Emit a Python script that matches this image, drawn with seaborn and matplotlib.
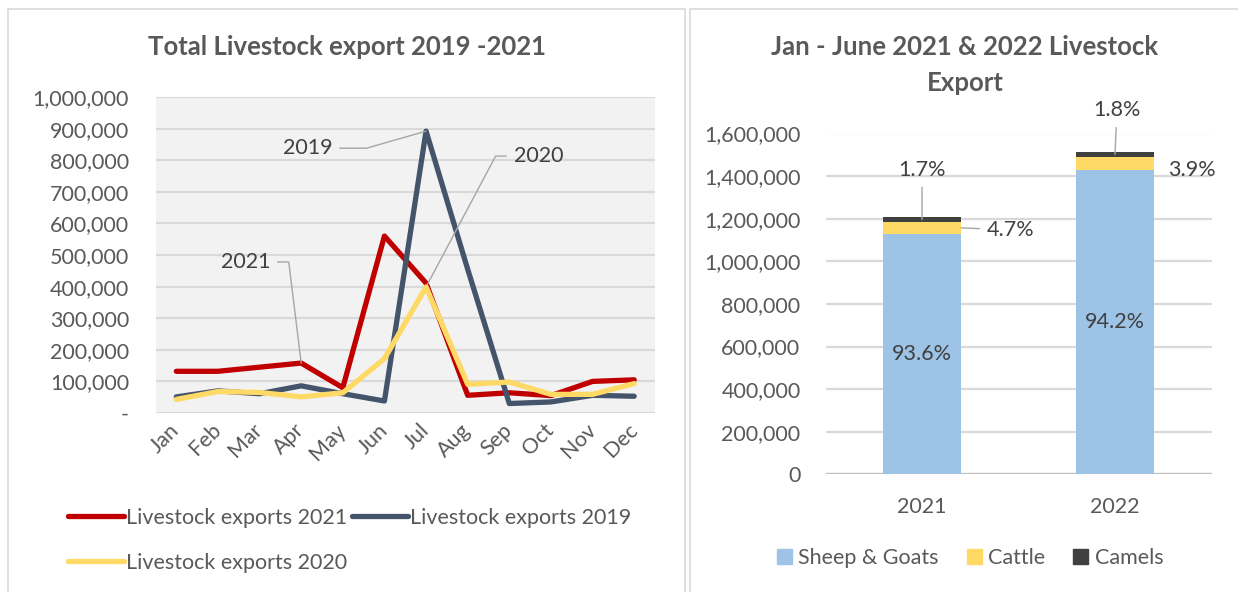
import matplotlib
matplotlib.use("Agg")
import matplotlib.pyplot as plt
from matplotlib.patches import Rectangle, Patch
from matplotlib.lines import Line2D
import numpy as np
import pandas as pd
import seaborn as sns

# ---- data ----
months = ["Jan", "Feb", "Mar", "Apr", "May", "Jun",
          "Jul", "Aug", "Sep", "Oct", "Nov", "Dec"]
exports_2021 = [132000, 132000, 145000, 158000, 80000, 560000,
                411000, 56000, 64000, 55000, 100000, 105000]
exports_2019 = [51000, 70000, 61000, 86000, 61000, 38000,
                892000, 455000, 30000, 35000, 56000, 53000]
exports_2020 = [43000, 68000, 65000, 51000, 64000, 172000,
                399000, 91000, 98000, 59000, 59000, 93000]

periods = ["2021", "2022"]
period_totals = [1206000, 1517000]
share_sheep_goats = [93.6, 94.2]
share_cattle = [4.7, 3.9]
share_camels = [1.7, 1.8]

RED, NAVY, YELLOW = "#C00000", "#44546A", "#FFD966"
BLUE, DARK = "#9DC3E6", "#404040"
TEXT = "#595959"
FS = 15.5      # tick / label text
FS_TITLE = 18.5

sns.set_theme(style="white")
plt.rcParams["font.family"] = ["Lato", "DejaVu Sans"]

W, H = 1238, 592
fig = plt.figure(figsize=(W / 100, H / 100), dpi=100)


def box(x0, y0, x1, y1):
    """Figure-fraction rectangle from pixel coords (origin top-left)."""
    return [x0 / W, 1 - y1 / H, (x1 - x0) / W, (y1 - y0) / H]


# panel frames
for (x0, x1) in [(8, 685), (690, 1250)]:
    fig.patches.append(Rectangle((x0 / W, -0.05), (x1 - x0) / W, 1.05 - 9 / H,
                                 transform=fig.transFigure, fill=False,
                                 edgecolor="#D9D9D9", lw=1.2))

# ---- left: monthly line chart ----
ax1 = fig.add_axes(box(155.5, 97, 655, 413))
ax1.set_facecolor("#F2F2F2")
series_names = ["Livestock exports 2021", "Livestock exports 2019",
                "Livestock exports 2020"]
long = pd.DataFrame({
    "pos": list(range(12)) * 3,
    "value": exports_2021 + exports_2019 + exports_2020,
    "series": [series_names[0]] * 12 + [series_names[1]] * 12
              + [series_names[2]] * 12,
})
palette = dict(zip(series_names, [RED, NAVY, YELLOW]))
sns.lineplot(data=long, x="pos", y="value", hue="series", palette=palette,
             hue_order=series_names, lw=3.8, ax=ax1, legend=False, sort=False)
# keep the 2020 series on top
for ln in ax1.get_lines():
    if matplotlib.colors.to_hex(ln.get_color()).upper() == YELLOW:
        ln.set_zorder(5)

ax1.set_xlim(-0.5, 11.5)
ax1.set_ylim(0, 1000000)
ax1.set_yticks(np.arange(0, 1000001, 100000))
ax1.set_yticklabels(["-"] + [f"{v:,}" for v in range(100000, 1000001, 100000)])
ax1.set_xticks(range(12))
ax1.set_xticklabels(months, rotation=45, ha="right", va="center",
                    rotation_mode="anchor")
ax1.tick_params(axis="y", length=0, pad=19, labelsize=FS, labelcolor=TEXT)
ax1.tick_params(axis="x", length=0, pad=10, labelsize=FS, labelcolor=TEXT)
ax1.grid(axis="y", color="#D9D9D9", lw=1.6)
ax1.set_axisbelow(True)
ax1.set_xlabel("")
ax1.set_ylabel("")
for s in ax1.spines.values():
    s.set_visible(False)

lead = dict(arrowstyle="-", color="#A6A6A6", lw=1.0, shrinkA=3, shrinkB=0)
ax1.annotate("2019", xy=(6, exports_2019[6]), xytext=(3.15, 838000),
             ha="center", va="center", fontsize=FS, color=DARK,
             arrowprops=dict(lead, connectionstyle="angle,angleA=0,angleB=196,rad=0"))
ax1.annotate("2020", xy=(6, exports_2020[6]), xytext=(8.7, 813000),
             ha="center", va="center", fontsize=FS, color=DARK,
             arrowprops=dict(lead, connectionstyle="angle,angleA=180,angleB=62,rad=0"))
ax1.annotate("2021", xy=(3, exports_2021[3]), xytext=(1.66, 478000),
             ha="center", va="center", fontsize=FS, color=DARK,
             arrowprops=dict(lead, connectionstyle="angle,angleA=0,angleB=97,rad=0"))

handles = [Line2D([], [], color=RED, lw=3.8, solid_capstyle="round"),
           Line2D([], [], color=YELLOW, lw=3.8, solid_capstyle="round"),
           Line2D([], [], color=NAVY, lw=3.8, solid_capstyle="round")]
labels = [series_names[0], series_names[2], series_names[1]]
fig.legend(handles, labels, ncol=2, loc="upper left",
           bbox_to_anchor=(68 / W, 1 - 508 / H), frameon=False,
           fontsize=FS, labelcolor=TEXT, handlelength=2.6, handletextpad=0.1,
           columnspacing=0.2, labelspacing=1.15, borderaxespad=0,
           borderpad=0)

fig.text(347 / W, 1 - 47 / H, "Total Livestock export 2019 -2021",
         ha="center", va="center", fontsize=FS_TITLE, fontweight="bold",
         color=TEXT)

# ---- right: stacked bars ----
ax2 = fig.add_axes(box(825.5, 133.5, 1211.5, 474.3))
tot = np.array(period_totals, dtype=float)
sheep = tot * np.array(share_sheep_goats) / 100
cattle = tot * np.array(share_cattle) / 100
camels = tot * np.array(share_camels) / 100

layers = [(sheep + cattle + camels, DARK),
          (sheep + cattle, YELLOW),
          (sheep, BLUE)]
for vals, col in layers:
    sns.barplot(x=periods, y=vals, color=col, width=0.404, saturation=1,
                linewidth=0, ax=ax2, zorder=3)

ax2.set_xlim(-0.5, 1.5)
ax2.set_ylim(0, 1600000)
ax2.set_yticks(np.arange(0, 1600001, 200000))
ax2.set_yticklabels([f"{v:,}" for v in range(0, 1600001, 200000)])
ax2.tick_params(axis="y", length=0, pad=18, labelsize=FS, labelcolor=TEXT)
ax2.tick_params(axis="x", length=0, pad=16, labelsize=FS, labelcolor=TEXT)
ax2.grid(axis="y", color="#D9D9D9", lw=1.6)
ax2.set_axisbelow(True)
ax2.set_xlabel("")
ax2.set_ylabel("")
for s in ax2.spines.values():
    s.set_visible(False)
ax2.axhline(0, color="#BFBFBF", lw=1.6, zorder=2)

for i in range(2):
    ax2.text(i, sheep[i] / 2, f"{share_sheep_goats[i]:.1f}%", ha="center",
             va="center", fontsize=FS, color=DARK, zorder=5)

ax2.annotate(f"{share_cattle[0]:.1f}%", xy=(0.202, sheep[0] + cattle[0] / 2),
             xytext=(0.46, sheep[0] + cattle[0] / 2 - 10000),
             ha="center", va="center", fontsize=FS, color=DARK,
             arrowprops=dict(lead))
ax2.annotate(f"{share_cattle[1]:.1f}%", xy=(1.202, sheep[1] + cattle[1] / 2),
             xytext=(1.4, sheep[1] + cattle[1] / 2 - 30000),
             ha="center", va="center", fontsize=FS, color=DARK)
top0 = sheep[0] + cattle[0] + camels[0]
top1 = sheep[1] + cattle[1] + camels[1]
ax2.annotate(f"{share_camels[0]:.1f}%", xy=(0, top0 - camels[0] / 2),
             xytext=(0, 1430000), ha="center", va="center", fontsize=FS,
             color=DARK, arrowprops=dict(lead))
ax2.annotate(f"{share_camels[1]:.1f}%", xy=(1, top1 - camels[1] / 2),
             xytext=(1.01, 1710000), ha="center", va="center", fontsize=FS,
             color=DARK, arrowprops=dict(lead), annotation_clip=False)

fig.text(965 / W, 1 - 47 / H, "Jan - June 2021 & 2022 Livestock",
         ha="center", va="center", fontsize=FS_TITLE, fontweight="bold",
         color=TEXT)
fig.text(965 / W, 1 - 83 / H, "Export",
         ha="center", va="center", fontsize=FS_TITLE, fontweight="bold",
         color=TEXT)

fig.legend([Patch(color=BLUE), Patch(color=YELLOW), Patch(color=DARK)],
           ["Sheep & Goats", "Cattle", "Camels"], ncol=3, loc="center",
           bbox_to_anchor=(970 / W, 1 - 558 / H), frameon=False,
           fontsize=FS, labelcolor=TEXT, handlelength=0.7, handleheight=0.7,
           handletextpad=0.3, columnspacing=1.3)

fig.savefig("out.png", dpi=100)
